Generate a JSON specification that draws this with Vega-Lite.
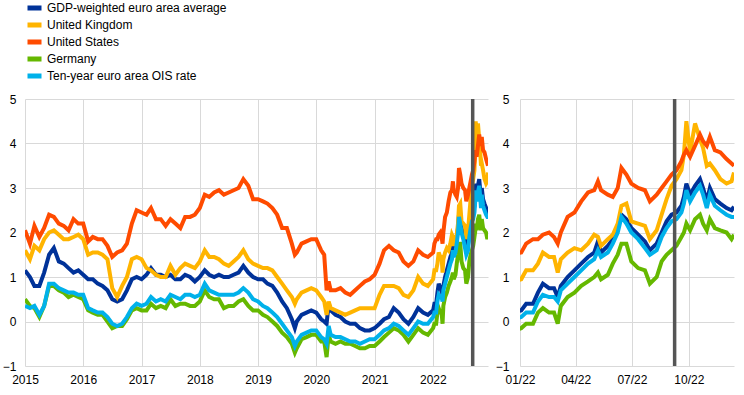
{
  "$schema": "https://vega.github.io/schema/vega-lite/v6.json",
  "background": "white",
  "padding": {"left": 2, "top": 1, "right": 5, "bottom": 5},
  "spacing": 7,
  "config": {
    "font": "Liberation Sans",
    "view": {"stroke": null},
    "axis": {
      "labelFont": "Liberation Sans",
      "labelFontSize": 12,
      "labelColor": "#000000",
      "gridColor": "#d9d9d9",
      "gridWidth": 1,
      "domain": false,
      "ticks": false,
      "tickSize": 0,
      "title": null
    },
    "legend": {
      "labelFont": "Liberation Sans",
      "labelFontSize": 12,
      "labelColor": "#000000"
    }
  },
  "datasets": {
    "rates": [
      {"date": "2015-01-01", "GDP": 1.15, "UK": 1.6, "US": 2.05, "DE": 0.5, "OIS": 0.35},
      {"date": "2015-02-01", "GDP": 1.0, "UK": 1.4, "US": 1.75, "DE": 0.35, "OIS": 0.3},
      {"date": "2015-03-01", "GDP": 0.8, "UK": 1.7, "US": 2.15, "DE": 0.3, "OIS": 0.35},
      {"date": "2015-04-01", "GDP": 0.8, "UK": 1.6, "US": 1.9, "DE": 0.1, "OIS": 0.15},
      {"date": "2015-05-01", "GDP": 1.1, "UK": 1.85, "US": 2.1, "DE": 0.35, "OIS": 0.35},
      {"date": "2015-06-01", "GDP": 1.5, "UK": 2.0, "US": 2.4, "DE": 0.8, "OIS": 0.85},
      {"date": "2015-07-01", "GDP": 1.65, "UK": 2.05, "US": 2.35, "DE": 0.8, "OIS": 0.85},
      {"date": "2015-08-01", "GDP": 1.35, "UK": 1.95, "US": 2.2, "DE": 0.7, "OIS": 0.75},
      {"date": "2015-09-01", "GDP": 1.3, "UK": 1.85, "US": 2.15, "DE": 0.65, "OIS": 0.7},
      {"date": "2015-10-01", "GDP": 1.2, "UK": 1.85, "US": 2.05, "DE": 0.55, "OIS": 0.65},
      {"date": "2015-11-01", "GDP": 1.1, "UK": 1.9, "US": 2.3, "DE": 0.6, "OIS": 0.65},
      {"date": "2015-12-01", "GDP": 1.15, "UK": 1.95, "US": 2.2, "DE": 0.55, "OIS": 0.6},
      {"date": "2016-01-01", "GDP": 1.05, "UK": 1.85, "US": 2.2, "DE": 0.5, "OIS": 0.6},
      {"date": "2016-02-01", "GDP": 0.95, "UK": 1.5, "US": 1.8, "DE": 0.25, "OIS": 0.3},
      {"date": "2016-03-01", "GDP": 0.95, "UK": 1.55, "US": 1.9, "DE": 0.2, "OIS": 0.25},
      {"date": "2016-04-01", "GDP": 0.85, "UK": 1.55, "US": 1.85, "DE": 0.15, "OIS": 0.2},
      {"date": "2016-05-01", "GDP": 0.8, "UK": 1.5, "US": 1.85, "DE": 0.15, "OIS": 0.2},
      {"date": "2016-06-01", "GDP": 0.7, "UK": 1.4, "US": 1.7, "DE": 0.0, "OIS": 0.1},
      {"date": "2016-07-01", "GDP": 0.5, "UK": 0.75, "US": 1.45, "DE": -0.15, "OIS": -0.05},
      {"date": "2016-08-01", "GDP": 0.45, "UK": 0.55, "US": 1.55, "DE": -0.1, "OIS": -0.1},
      {"date": "2016-09-01", "GDP": 0.5, "UK": 0.8, "US": 1.6, "DE": -0.1, "OIS": -0.05},
      {"date": "2016-10-01", "GDP": 0.7, "UK": 1.0, "US": 1.75, "DE": 0.05, "OIS": 0.1},
      {"date": "2016-11-01", "GDP": 0.95, "UK": 1.4, "US": 2.2, "DE": 0.25, "OIS": 0.3},
      {"date": "2016-12-01", "GDP": 1.0, "UK": 1.45, "US": 2.5, "DE": 0.3, "OIS": 0.4},
      {"date": "2017-01-01", "GDP": 0.95, "UK": 1.4, "US": 2.45, "DE": 0.25, "OIS": 0.35},
      {"date": "2017-02-01", "GDP": 1.05, "UK": 1.2, "US": 2.4, "DE": 0.25, "OIS": 0.4},
      {"date": "2017-03-01", "GDP": 1.2, "UK": 1.15, "US": 2.55, "DE": 0.4, "OIS": 0.55},
      {"date": "2017-04-01", "GDP": 1.05, "UK": 1.05, "US": 2.3, "DE": 0.3, "OIS": 0.45},
      {"date": "2017-05-01", "GDP": 1.05, "UK": 1.0, "US": 2.3, "DE": 0.35, "OIS": 0.5},
      {"date": "2017-06-01", "GDP": 1.0, "UK": 1.0, "US": 2.15, "DE": 0.3, "OIS": 0.45},
      {"date": "2017-07-01", "GDP": 1.05, "UK": 1.25, "US": 2.3, "DE": 0.5, "OIS": 0.6},
      {"date": "2017-08-01", "GDP": 0.95, "UK": 1.05, "US": 2.2, "DE": 0.35, "OIS": 0.55},
      {"date": "2017-09-01", "GDP": 0.95, "UK": 1.2, "US": 2.1, "DE": 0.4, "OIS": 0.5},
      {"date": "2017-10-01", "GDP": 1.05, "UK": 1.3, "US": 2.35, "DE": 0.4, "OIS": 0.6},
      {"date": "2017-11-01", "GDP": 1.0, "UK": 1.25, "US": 2.35, "DE": 0.35, "OIS": 0.6},
      {"date": "2017-12-01", "GDP": 0.9, "UK": 1.2, "US": 2.4, "DE": 0.35, "OIS": 0.55},
      {"date": "2018-01-01", "GDP": 1.0, "UK": 1.35, "US": 2.55, "DE": 0.45, "OIS": 0.6},
      {"date": "2018-02-01", "GDP": 1.15, "UK": 1.6, "US": 2.85, "DE": 0.7, "OIS": 0.85},
      {"date": "2018-03-01", "GDP": 1.05, "UK": 1.45, "US": 2.8, "DE": 0.55, "OIS": 0.7},
      {"date": "2018-04-01", "GDP": 1.0, "UK": 1.45, "US": 2.9, "DE": 0.5, "OIS": 0.65},
      {"date": "2018-05-01", "GDP": 1.05, "UK": 1.4, "US": 2.95, "DE": 0.5, "OIS": 0.6},
      {"date": "2018-06-01", "GDP": 1.0, "UK": 1.3, "US": 2.85, "DE": 0.3, "OIS": 0.6},
      {"date": "2018-07-01", "GDP": 1.0, "UK": 1.25, "US": 2.9, "DE": 0.35, "OIS": 0.6},
      {"date": "2018-08-01", "GDP": 1.05, "UK": 1.35, "US": 2.95, "DE": 0.35, "OIS": 0.6},
      {"date": "2018-09-01", "GDP": 1.1, "UK": 1.45, "US": 3.0, "DE": 0.45, "OIS": 0.65},
      {"date": "2018-10-01", "GDP": 1.25, "UK": 1.6, "US": 3.2, "DE": 0.5, "OIS": 0.75},
      {"date": "2018-11-01", "GDP": 1.1, "UK": 1.4, "US": 3.05, "DE": 0.35, "OIS": 0.65},
      {"date": "2018-12-01", "GDP": 1.0, "UK": 1.3, "US": 2.75, "DE": 0.25, "OIS": 0.5},
      {"date": "2019-01-01", "GDP": 0.95, "UK": 1.25, "US": 2.75, "DE": 0.25, "OIS": 0.45},
      {"date": "2019-02-01", "GDP": 0.95, "UK": 1.2, "US": 2.7, "DE": 0.15, "OIS": 0.35},
      {"date": "2019-03-01", "GDP": 0.85, "UK": 1.2, "US": 2.65, "DE": 0.1, "OIS": 0.3},
      {"date": "2019-04-01", "GDP": 0.8, "UK": 1.15, "US": 2.55, "DE": 0.0, "OIS": 0.2},
      {"date": "2019-05-01", "GDP": 0.65, "UK": 1.0, "US": 2.4, "DE": -0.1, "OIS": 0.1},
      {"date": "2019-06-01", "GDP": 0.45, "UK": 0.85, "US": 2.1, "DE": -0.25, "OIS": -0.05},
      {"date": "2019-07-01", "GDP": 0.3, "UK": 0.7, "US": 2.1, "DE": -0.35, "OIS": -0.2},
      {"date": "2019-08-01", "GDP": 0.05, "UK": 0.55, "US": 1.75, "DE": -0.5, "OIS": -0.35},
      {"date": "2019-08-20", "GDP": -0.15, "UK": 0.4, "US": 1.5, "DE": -0.7, "OIS": -0.55},
      {"date": "2019-09-01", "GDP": 0.0, "UK": 0.5, "US": 1.55, "DE": -0.6, "OIS": -0.45},
      {"date": "2019-10-01", "GDP": 0.15, "UK": 0.65, "US": 1.75, "DE": -0.4, "OIS": -0.3},
      {"date": "2019-11-01", "GDP": 0.2, "UK": 0.7, "US": 1.8, "DE": -0.35, "OIS": -0.25},
      {"date": "2019-12-01", "GDP": 0.25, "UK": 0.75, "US": 1.85, "DE": -0.3, "OIS": -0.2},
      {"date": "2020-01-01", "GDP": 0.2, "UK": 0.7, "US": 1.85, "DE": -0.3, "OIS": -0.2},
      {"date": "2020-02-01", "GDP": 0.05, "UK": 0.55, "US": 1.6, "DE": -0.45, "OIS": -0.35},
      {"date": "2020-02-20", "GDP": 0.0, "UK": 0.45, "US": 1.5, "DE": -0.45, "OIS": -0.4},
      {"date": "2020-03-06", "GDP": -0.05, "UK": 0.15, "US": 0.7, "DE": -0.8, "OIS": -0.5},
      {"date": "2020-03-19", "GDP": 0.4, "UK": 0.45, "US": 0.9, "DE": -0.3, "OIS": -0.1},
      {"date": "2020-04-01", "GDP": 0.25, "UK": 0.3, "US": 0.7, "DE": -0.45, "OIS": -0.3},
      {"date": "2020-05-01", "GDP": 0.15, "UK": 0.25, "US": 0.7, "DE": -0.5, "OIS": -0.35},
      {"date": "2020-06-01", "GDP": 0.1, "UK": 0.2, "US": 0.75, "DE": -0.45, "OIS": -0.35},
      {"date": "2020-07-01", "GDP": 0.0, "UK": 0.15, "US": 0.65, "DE": -0.5, "OIS": -0.4},
      {"date": "2020-08-01", "GDP": -0.05, "UK": 0.2, "US": 0.6, "DE": -0.5, "OIS": -0.45},
      {"date": "2020-09-01", "GDP": -0.05, "UK": 0.25, "US": 0.7, "DE": -0.55, "OIS": -0.45},
      {"date": "2020-10-01", "GDP": -0.15, "UK": 0.3, "US": 0.8, "DE": -0.6, "OIS": -0.5},
      {"date": "2020-11-01", "GDP": -0.2, "UK": 0.3, "US": 0.9, "DE": -0.6, "OIS": -0.45},
      {"date": "2020-12-01", "GDP": -0.2, "UK": 0.3, "US": 0.95, "DE": -0.55, "OIS": -0.4},
      {"date": "2021-01-01", "GDP": -0.15, "UK": 0.3, "US": 1.05, "DE": -0.55, "OIS": -0.4},
      {"date": "2021-02-01", "GDP": -0.05, "UK": 0.6, "US": 1.3, "DE": -0.45, "OIS": -0.3},
      {"date": "2021-03-01", "GDP": 0.05, "UK": 0.8, "US": 1.6, "DE": -0.35, "OIS": -0.2},
      {"date": "2021-04-01", "GDP": 0.1, "UK": 0.8, "US": 1.7, "DE": -0.25, "OIS": -0.15},
      {"date": "2021-05-01", "GDP": 0.3, "UK": 0.8, "US": 1.6, "DE": -0.15, "OIS": -0.05},
      {"date": "2021-06-01", "GDP": 0.2, "UK": 0.75, "US": 1.55, "DE": -0.2, "OIS": -0.1},
      {"date": "2021-07-01", "GDP": 0.05, "UK": 0.6, "US": 1.35, "DE": -0.3, "OIS": -0.2},
      {"date": "2021-08-01", "GDP": -0.05, "UK": 0.55, "US": 1.25, "DE": -0.45, "OIS": -0.3},
      {"date": "2021-09-01", "GDP": 0.1, "UK": 0.7, "US": 1.35, "DE": -0.3, "OIS": -0.15},
      {"date": "2021-10-01", "GDP": 0.3, "UK": 1.0, "US": 1.6, "DE": -0.15, "OIS": 0.0},
      {"date": "2021-11-01", "GDP": 0.2, "UK": 0.85, "US": 1.5, "DE": -0.25, "OIS": -0.05},
      {"date": "2021-12-01", "GDP": 0.15, "UK": 0.8, "US": 1.45, "DE": -0.3, "OIS": -0.05},
      {"date": "2022-01-03", "GDP": 0.25, "UK": 0.95, "US": 1.55, "DE": -0.15, "OIS": 0.1},
      {"date": "2022-01-11", "GDP": 0.4, "UK": 1.15, "US": 1.75, "DE": -0.05, "OIS": 0.2},
      {"date": "2022-01-22", "GDP": 0.4, "UK": 1.15, "US": 1.85, "DE": -0.05, "OIS": 0.2},
      {"date": "2022-01-30", "GDP": 0.65, "UK": 1.3, "US": 1.85, "DE": 0.2, "OIS": 0.45},
      {"date": "2022-02-07", "GDP": 0.85, "UK": 1.55, "US": 1.95, "DE": 0.3, "OIS": 0.6},
      {"date": "2022-02-17", "GDP": 0.75, "UK": 1.45, "US": 2.0, "DE": 0.2, "OIS": 0.55},
      {"date": "2022-02-25", "GDP": 0.75, "UK": 1.45, "US": 1.9, "DE": 0.2, "OIS": 0.55},
      {"date": "2022-03-03", "GDP": 0.55, "UK": 1.1, "US": 1.75, "DE": -0.05, "OIS": 0.45},
      {"date": "2022-03-08", "GDP": 0.8, "UK": 1.4, "US": 2.0, "DE": 0.35, "OIS": 0.7},
      {"date": "2022-03-19", "GDP": 1.0, "UK": 1.55, "US": 2.35, "DE": 0.55, "OIS": 0.85},
      {"date": "2022-03-30", "GDP": 1.15, "UK": 1.65, "US": 2.45, "DE": 0.65, "OIS": 1.0},
      {"date": "2022-04-10", "GDP": 1.3, "UK": 1.6, "US": 2.7, "DE": 0.8, "OIS": 1.15},
      {"date": "2022-04-21", "GDP": 1.45, "UK": 1.75, "US": 2.9, "DE": 0.9, "OIS": 1.3},
      {"date": "2022-05-01", "GDP": 1.55, "UK": 1.95, "US": 2.95, "DE": 1.0, "OIS": 1.4},
      {"date": "2022-05-07", "GDP": 1.8, "UK": 1.9, "US": 3.15, "DE": 1.1, "OIS": 1.6},
      {"date": "2022-05-12", "GDP": 1.55, "UK": 1.7, "US": 2.95, "DE": 0.95, "OIS": 1.45},
      {"date": "2022-05-23", "GDP": 1.7, "UK": 1.85, "US": 2.85, "DE": 1.05, "OIS": 1.55},
      {"date": "2022-05-31", "GDP": 1.85, "UK": 1.95, "US": 2.8, "DE": 1.3, "OIS": 1.75},
      {"date": "2022-06-08", "GDP": 2.1, "UK": 2.2, "US": 3.0, "DE": 1.5, "OIS": 2.0},
      {"date": "2022-06-14", "GDP": 2.4, "UK": 2.6, "US": 3.45, "DE": 1.75, "OIS": 2.35},
      {"date": "2022-06-22", "GDP": 2.3, "UK": 2.65, "US": 3.3, "DE": 1.75, "OIS": 2.2},
      {"date": "2022-06-30", "GDP": 2.1, "UK": 2.25, "US": 3.1, "DE": 1.35, "OIS": 2.0},
      {"date": "2022-07-11", "GDP": 1.95, "UK": 2.2, "US": 3.0, "DE": 1.2, "OIS": 1.85},
      {"date": "2022-07-22", "GDP": 1.8, "UK": 2.15, "US": 2.95, "DE": 1.15, "OIS": 1.65},
      {"date": "2022-07-30", "GDP": 1.6, "UK": 1.85, "US": 2.7, "DE": 0.85, "OIS": 1.5},
      {"date": "2022-08-10", "GDP": 1.75, "UK": 2.05, "US": 2.85, "DE": 1.0, "OIS": 1.6},
      {"date": "2022-08-18", "GDP": 2.0, "UK": 2.4, "US": 3.0, "DE": 1.35, "OIS": 1.9},
      {"date": "2022-08-26", "GDP": 2.25, "UK": 2.75, "US": 3.15, "DE": 1.5, "OIS": 2.1},
      {"date": "2022-09-03", "GDP": 2.4, "UK": 3.05, "US": 3.3, "DE": 1.6, "OIS": 2.25},
      {"date": "2022-09-11", "GDP": 2.45, "UK": 3.2, "US": 3.4, "DE": 1.7, "OIS": 2.3},
      {"date": "2022-09-19", "GDP": 2.6, "UK": 3.4, "US": 3.6, "DE": 1.9, "OIS": 2.45},
      {"date": "2022-09-23", "GDP": 2.8, "UK": 3.75, "US": 3.75, "DE": 2.0, "OIS": 2.65},
      {"date": "2022-09-27", "GDP": 3.1, "UK": 4.5, "US": 3.85, "DE": 2.2, "OIS": 2.95},
      {"date": "2022-10-03", "GDP": 2.85, "UK": 3.8, "US": 3.7, "DE": 2.05, "OIS": 2.7},
      {"date": "2022-10-11", "GDP": 3.05, "UK": 4.45, "US": 3.95, "DE": 2.3, "OIS": 2.9},
      {"date": "2022-10-19", "GDP": 3.2, "UK": 4.1, "US": 4.2, "DE": 2.4, "OIS": 3.05},
      {"date": "2022-10-24", "GDP": 3.0, "UK": 3.9, "US": 4.05, "DE": 2.2, "OIS": 2.85},
      {"date": "2022-10-30", "GDP": 2.7, "UK": 3.5, "US": 3.95, "DE": 2.05, "OIS": 2.55},
      {"date": "2022-11-04", "GDP": 3.0, "UK": 3.55, "US": 4.15, "DE": 2.3, "OIS": 2.85},
      {"date": "2022-11-12", "GDP": 2.75, "UK": 3.4, "US": 3.85, "DE": 2.1, "OIS": 2.6},
      {"date": "2022-11-21", "GDP": 2.65, "UK": 3.2, "US": 3.8, "DE": 2.05, "OIS": 2.5},
      {"date": "2022-12-01", "GDP": 2.55, "UK": 3.1, "US": 3.65, "DE": 2.0, "OIS": 2.4},
      {"date": "2022-12-09", "GDP": 2.5, "UK": 3.15, "US": 3.55, "DE": 1.85, "OIS": 2.35},
      {"date": "2022-12-13", "GDP": 2.58, "UK": 3.35, "US": 3.5, "DE": 1.95, "OIS": 2.35}
    ],
    "marker": [{"date": "2022-09-08"}]
  },
  "resolve": {"legend": {"color": "independent"}},
  "hconcat": [
    {
      "width": 463,
      "height": 267,
      "layer": [
        {
          "data": {"name": "rates"},
          "transform": [{"fold": ["GDP", "UK", "US", "DE", "OIS"], "as": ["series", "value"]}],
          "mark": {"type": "line", "strokeWidth": 4, "clip": true},
          "encoding": {
            "x": {
              "field": "date", "type": "temporal",
              "scale": {"domain": [{"year": 2015, "month": 1, "date": 1}, {"year": 2022, "month": 12, "date": 13}], "nice": false},
              "axis": {"format": "%Y", "tickCount": {"interval": "year", "step": 1}, "labelFlush": false, "labelOverlap": false, "labelPadding": 8, "grid": true}
            },
            "y": {
              "field": "value", "type": "quantitative",
              "scale": {"domain": [-1, 5], "nice": false},
              "axis": {"values": [-1, 0, 1, 2, 3, 4, 5], "labelPadding": 9, "minExtent": 20, "maxExtent": 20, "grid": true}
            },
            "color": {
              "field": "series", "type": "nominal",
              "scale": {"domain": ["GDP", "UK", "US", "DE", "OIS"], "range": ["#003299", "#ffb400", "#ff4b00", "#65b800", "#00b1ea"]},
              "legend": {
                "title": null,
                "orient": "top",
                "direction": "vertical",
                "symbolType": "stroke",
                "symbolStrokeWidth": 5,
                "symbolSize": 196,
                "clipHeight": 14,
                "rowPadding": 3,
                "labelOffset": 3,
                "labelLimit": 400,
                "offset": 16,
                "padding": 0,
                "labelExpr": "{'GDP': 'GDP-weighted euro area average', 'UK': 'United Kingdom', 'US': 'United States', 'DE': 'Germany', 'OIS': 'Ten-year euro area OIS rate'}[datum.label]"
              }
            }
          }
        },
        {
          "data": {"name": "marker"},
          "mark": {"type": "rule", "color": "#555555", "strokeWidth": 3.5},
          "encoding": {"x": {"field": "date", "type": "temporal"}}
        }
      ]
    },
    {
      "width": 214,
      "height": 267,
      "layer": [
        {
          "data": {"name": "rates"},
          "transform": [{"fold": ["GDP", "UK", "US", "DE", "OIS"], "as": ["series", "value"]}],
          "mark": {"type": "line", "strokeWidth": 4, "clip": true},
          "encoding": {
            "x": {
              "field": "date", "type": "temporal",
              "scale": {"domain": [{"year": 2022, "month": 1, "date": 1}, {"year": 2022, "month": 12, "date": 13}], "nice": false},
              "axis": {"format": "%m/%y", "tickCount": {"interval": "month", "step": 3}, "labelFlush": false, "labelOverlap": false, "labelPadding": 8, "grid": true}
            },
            "y": {
              "field": "value", "type": "quantitative",
              "scale": {"domain": [-1, 5], "nice": false},
              "axis": {"values": [-1, 0, 1, 2, 3, 4, 5], "labelPadding": 11, "minExtent": 20, "maxExtent": 20, "grid": true}
            },
            "color": {
              "field": "series", "type": "nominal",
              "scale": {"domain": ["GDP", "UK", "US", "DE", "OIS"], "range": ["#003299", "#ffb400", "#ff4b00", "#65b800", "#00b1ea"]},
              "legend": null
            }
          }
        },
        {
          "data": {"name": "marker"},
          "mark": {"type": "rule", "color": "#555555", "strokeWidth": 3.5},
          "encoding": {"x": {"field": "date", "type": "temporal"}}
        }
      ]
    }
  ]
}
